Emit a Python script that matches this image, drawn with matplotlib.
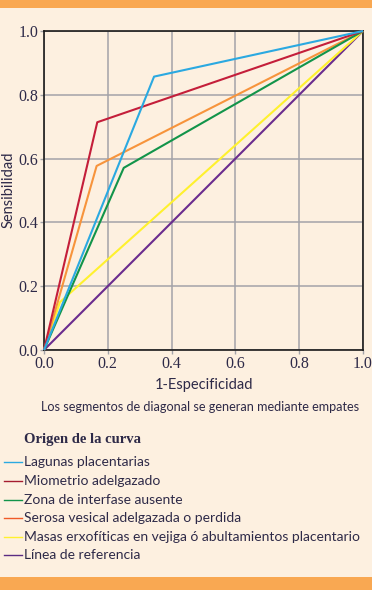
import matplotlib
matplotlib.use("Agg")
import matplotlib.pyplot as plt
from matplotlib.lines import Line2D

# Data
series_names = ["Lagunas placentarias", "Miometrio adelgazado", "Zona de interfase ausente",
                "Serosa vesical adelgazada o perdida",
                "Masas erxofíticas en vejiga ó abultamientos placentario", "Línea de referencia"]
fpr = {
    "Lagunas placentarias": [0.0, 0.345, 1.0],
    "Miometrio adelgazado": [0.0, 0.167, 1.0],
    "Zona de interfase ausente": [0.0, 0.25, 1.0],
    "Serosa vesical adelgazada o perdida": [0.0, 0.165, 1.0],
    "Masas erxofíticas en vejiga ó abultamientos placentario": [0.0, 0.05, 1.0],
    "Línea de referencia": [0.0, 1.0],
}
tpr = {
    "Lagunas placentarias": [0.0, 0.857, 1.0],
    "Miometrio adelgazado": [0.0, 0.714, 1.0],
    "Zona de interfase ausente": [0.0, 0.571, 1.0],
    "Serosa vesical adelgazada o perdida": [0.0, 0.577, 1.0],
    "Masas erxofíticas en vejiga ó abultamientos placentario": [0.0, 0.15, 1.0],
    "Línea de referencia": [0.0, 1.0],
}
line_colors = ["#2BA9E1", "#C41E3A", "#12944A", "#F7943C", "#FFF12E", "#6A2C8E"]
legend_colors = ["#2BA9E1", "#A51C30", "#12944A", "#F05A28", "#FFF12E", "#5B2C83"]
ticks = [0.0, 0.2, 0.4, 0.6, 0.8, 1.0]
tick_labels = ["0.0", "0.2", "0.4", "0.6", "0.8", "1.0"]

W, H = 372, 590
bg = "#FDF0E0"
band = "#F9A852"
txt = "#2E2A48"

fig = plt.figure(figsize=(W / 100, H / 100), dpi=100, facecolor=bg)
# orange bands
fig.patches.append(plt.Rectangle((0, 1 - 8 / H), 1, 8 / H, transform=fig.transFigure,
                                 facecolor=band, edgecolor="none", zorder=0))
fig.patches.append(plt.Rectangle((0, 0), 1, 13 / H, transform=fig.transFigure,
                                 facecolor=band, edgecolor="none", zorder=0))

ax = fig.add_axes([44 / W, 1 - 350 / H, 319 / W, 319 / H])
ax.set_facecolor(bg)
ax.set_xlim(0, 1)
ax.set_ylim(0, 1)
ax.set_xticks(ticks)
ax.set_yticks(ticks)
ax.set_xticklabels(tick_labels)
ax.set_yticklabels(tick_labels)
ax.grid(True, color="#A3A3A8", linewidth=1.1)
ax.set_axisbelow(True)
for s in ax.spines.values():
    s.set_color("#1A1A1A")
    s.set_linewidth(1.2)
ax.tick_params(length=3, width=1.0, color="#A3A3A8", pad=1,
               labelsize=11.5, labelcolor=txt)
for lab in ax.get_xticklabels() + ax.get_yticklabels():
    lab.set_family("Liberation Serif")

for i, name in enumerate(series_names):
    ax.plot(fpr[name], tpr[name], color=line_colors[i], linewidth=1.5,
            solid_capstyle="butt", clip_on=False, zorder=3 + (5 - i) * 0.1)

ax.set_xlabel("1-Especificidad", fontsize=10.5, color=txt, family="Lato", labelpad=5)
fig.text(8.5 / W, 1 - 190 / H, "Sensibilidad", rotation=90, ha="center", va="center",
         fontsize=10.5, color=txt, family="Lato")

fig.text(200 / W, 1 - 407 / H, "Los segmentos de diagonal se generan mediante empates",
         ha="center", va="center", fontsize=9.1, color=txt, family="Lato")

fig.text(24 / W, 1 - 440 / H, "Origen de la curva", ha="left", va="center",
         fontsize=10.5, fontweight="bold", color=txt, family="Liberation Serif")

rows = [462, 481, 500, 518, 537, 555]
for i, name in enumerate(series_names):
    y = 1 - rows[i] / H
    fig.lines.append(Line2D([4 / W, 22 / W], [y, y], transform=fig.transFigure,
                            color=legend_colors[i], linewidth=1.0))
    fig.text(24 / W, y, name, ha="left", va="center", fontsize=10.0,
             color=txt, family="Lato")

fig.savefig("out.png", dpi=100, facecolor=bg)
